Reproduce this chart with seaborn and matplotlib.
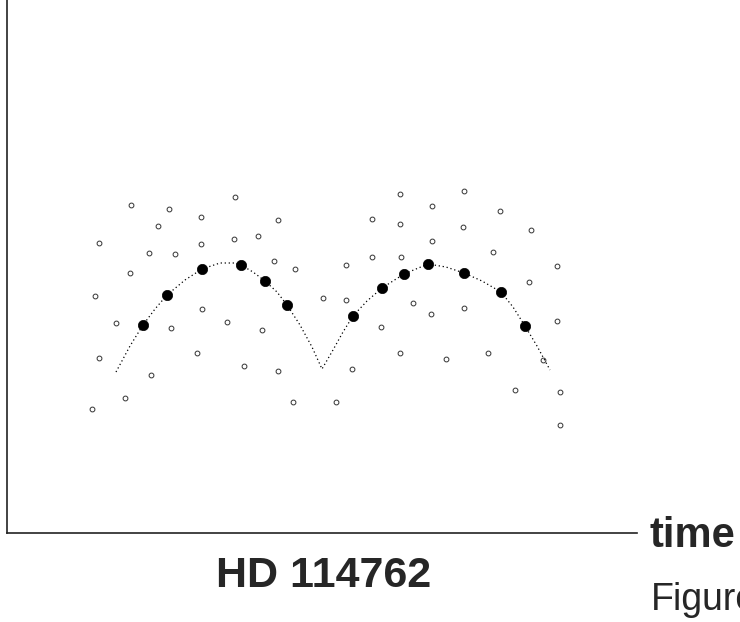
import matplotlib
matplotlib.use("Agg")
import matplotlib.pyplot as plt
import seaborn as sns
import pandas as pd
import numpy as np

# ---- data (time, velocity in arbitrary plot units) ----
# filled points (binned / averaged measurements)
mean_t = [134.7, 159.3, 194.0, 232.7, 257.3, 279.3, 345.3, 373.7, 396.3, 420.3, 456.0, 492.7, 516.7]
mean_v = [204.7, 235.3, 261.0, 264.7, 248.7, 224.7, 214.0, 242.3, 255.7, 265.7, 256.7, 238.3, 204.3]

# open points (individual measurements)
raw_t = [227.0, 122.7, 161.3, 192.7, 270.3, 150.3, 91.0, 192.7, 226.0, 249.7,
         141.0, 167.0, 266.3, 287.0, 122.0, 87.0, 314.7, 194.0, 108.0, 162.7,
         218.7, 253.7, 189.3, 91.3, 236.3, 270.0, 142.7, 117.0, 284.7, 84.3,
         392.0, 456.3, 423.7, 492.0, 364.3, 392.0, 455.3, 522.7, 423.7, 484.7,
         364.3, 393.0, 338.0, 548.7, 521.0, 338.0, 404.7, 456.3, 423.0, 373.0,
         548.7, 392.0, 438.0, 480.3, 535.3, 343.7, 327.7, 507.0, 552.0, 552.0]
raw_v = [333.3, 325.0, 321.0, 313.3, 310.0, 304.0, 286.7, 285.7, 291.0, 294.0,
         277.3, 276.0, 269.0, 261.0, 256.7, 234.3, 232.3, 221.3, 206.7, 202.3,
         208.0, 200.0, 177.3, 172.3, 164.3, 159.0, 155.3, 132.3, 128.3, 121.0,
         336.0, 339.0, 324.3, 319.0, 310.7, 305.7, 303.3, 300.0, 289.0, 277.7,
         273.3, 272.7, 265.0, 264.3, 247.7, 230.0, 226.7, 221.7, 216.0, 202.7,
         209.3, 177.3, 171.0, 177.3, 170.0, 161.0, 128.3, 140.0, 137.7, 105.0]

# fitted orbit curve
fit_t = [108, 122, 135, 147, 159, 177, 194, 212, 227, 233, 245, 257, 269, 279,
         292, 304, 314, 325, 335, 345, 359, 374, 396, 420, 438, 456, 474, 493,
         505, 517, 529, 542]
fit_v = [158, 184, 205, 221, 235, 250, 261, 267, 267, 265, 258, 249, 238, 225,
         205, 183, 161, 180, 198, 214, 229, 242, 256, 266, 263, 257, 249, 238,
         223, 204, 184, 160]

raw = pd.DataFrame({"time": raw_t, "v": raw_v})
means = pd.DataFrame({"time": mean_t, "v": mean_v})
fit = pd.DataFrame({"time": fit_t, "v": fit_v})

sns.set_style("white")
plt.rcParams["font.family"] = ["Liberation Sans", "DejaVu Sans"]

fig = plt.figure(figsize=(7.4, 6.22), dpi=100)
ax = fig.add_axes([7 / 740, 89 / 622, 630 / 740, 533 / 622])

sns.lineplot(data=fit, x="time", y="v", ax=ax, sort=False, estimator=None,
             color="black", linewidth=0.9, linestyle=(0, (1, 2.2)))
sns.scatterplot(data=raw, x="time", y="v", ax=ax, s=12, marker="o",
                facecolor="white", edgecolor="#333333", linewidth=0.7)
sns.scatterplot(data=means, x="time", y="v", ax=ax, s=55, marker="o",
                color="black", edgecolor="black", linewidth=0.5)

ax.set_xlim(-1, 629)
ax.set_ylim(-3, 530)
ax.set_xticks([])
ax.set_yticks([])
ax.set_xlabel("")
ax.set_ylabel("")
for side in ["top", "right"]:
    ax.spines[side].set_visible(False)
for side in ["left", "bottom"]:
    ax.spines[side].set_color("#222222")
    ax.spines[side].set_linewidth(1.2)

fig.text(650 / 740, 1 - 547 / 622, "time", fontsize=30, fontweight="bold",
         ha="left", va="baseline")
fig.text(324 / 740, 1 - 587 / 622, "HD 114762", fontsize=31, fontweight="bold",
         ha="center", va="baseline")
fig.text(651 / 740, 1 - 610 / 622, "Figure", fontsize=27,
         ha="left", va="baseline")

fig.savefig("out.png", dpi=100)
